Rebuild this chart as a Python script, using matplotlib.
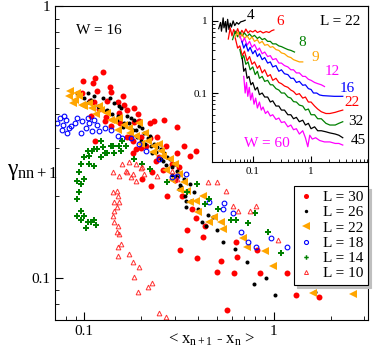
"""
Scatter of gamma_nn+1 against <x_n+1 - x_n> for W = 16, with an inset for L = 22.
"""
import matplotlib
matplotlib.use("Agg")
import matplotlib.pyplot as plt
from matplotlib.ticker import NullFormatter

plt.rcParams['font.family'] = ['Liberation Serif', 'DejaVu Serif']
plt.rcParams['mathtext.fontset'] = 'custom'
plt.rcParams['mathtext.rm'] = 'Liberation Serif'
plt.rcParams['mathtext.it'] = 'Liberation Serif:italic'

# ---- main panel data (W = 16) ----
l30_x = [0.125, 0.117, 0.111, 0.098, 0.114, 0.139, 0.137, 0.161, 0.191, 0.195, 0.107, 0.113,
         0.132, 0.15, 0.169, 0.163, 0.182, 0.221, 0.234, 0.265, 0.114, 0.109, 0.128, 0.139,
         0.169, 0.18, 0.2, 0.202, 0.307, 0.271, 0.184, 0.307, 0.229, 0.202, 0.226, 0.275,
         0.39, 0.35, 0.432, 0.426, 0.322, 0.396, 0.5, 0.614, 0.637, 0.564, 0.18, 0.188,
         0.213, 0.338, 0.36, 0.39, 0.53, 0.63, 0.813, 0.843, 1.17, 1.31, 1.73, 0.097,
         0.249, 0.289, 0.153, 0.221, 0.243, 0.318, 0.12, 0.13, 0.155, 0.175, 0.2, 0.24,
         0.26, 0.3, 0.33, 0.37]
l30_y = [0.573, 0.487, 0.521, 0.531, 0.544, 0.483, 0.504, 0.467, 0.4, 0.377, 0.447, 0.444,
         0.447, 0.444, 0.414, 0.432, 0.374, 0.371, 0.377, 0.38, 0.32, 0.394, 0.377, 0.361,
         0.329, 0.318, 0.331, 0.307, 0.358, 0.307, 0.422, 0.287, 0.246, 0.231, 0.218, 0.2,
         0.166, 0.15, 0.155, 0.142, 0.127, 0.118, 0.105, 0.104, 0.119, 0.076, 0.287, 0.299,
         0.307, 0.307, 0.282, 0.292, 0.115, 0.136, 0.127, 0.104, 0.104, 0.0865, 0.085, 0.479,
         0.279, 0.263, 0.403, 0.326, 0.331, 0.256, 0.42, 0.39, 0.37, 0.33, 0.3, 0.27,
         0.25, 0.23, 0.2, 0.18]

l26_x = [0.104, 0.105, 0.125, 0.144, 0.157, 0.177, 0.188, 0.207, 0.234, 0.255, 0.226, 0.229,
         0.255, 0.289, 0.326, 0.318, 0.368, 0.346, 0.416, 0.537, 0.622, 0.72, 0.907, 0.784,
         1.02, 0.346, 0.476, 0.437, 1.65, 0.092, 0.113, 0.12, 0.132, 0.15, 0.163, 0.169,
         0.195, 0.216, 0.243, 0.265, 0.282, 0.3, 0.31, 0.338, 0.36, 0.136, 0.153, 0.184,
         0.202, 0.221, 0.275, 0.307, 0.38, 0.1, 0.108, 0.118, 0.128, 0.14, 0.148, 0.16,
         0.172, 0.18, 0.19, 0.2, 0.21, 0.24, 0.26, 0.27, 0.29, 0.32, 0.34, 0.4, 0.45, 0.5]
l26_y = [0.479, 0.444, 0.459, 0.44, 0.422, 0.387, 0.349, 0.34, 0.312, 0.299, 0.307, 0.287,
         0.275, 0.256, 0.216, 0.212, 0.192, 0.182, 0.161, 0.135, 0.128, 0.114, 0.1, 0.095,
         0.0865, 0.192, 0.167, 0.155, 0.0887, 0.479, 0.467, 0.422, 0.414, 0.394, 0.371, 0.394,
         0.361, 0.326, 0.304, 0.287, 0.275, 0.263, 0.248, 0.231, 0.222, 0.459, 0.43, 0.38,
         0.355, 0.334, 0.279, 0.237, 0.207, 0.46, 0.45, 0.43, 0.41, 0.4, 0.38, 0.36,
         0.37, 0.35, 0.33, 0.32, 0.31, 0.29, 0.27, 0.26, 0.24, 0.22, 0.2, 0.18, 0.17, 0.15]

l22_x = [0.084, 0.083, 0.089, 0.097, 0.094, 0.11, 0.123, 0.132, 0.144, 0.163, 0.188, 0.195,
         0.216, 0.234, 0.255, 0.282, 0.3, 0.318, 0.35, 0.421, 0.39, 0.458, 0.53, 0.685,
         0.72, 0.896, 0.988, 0.487, 0.537, 1.61, 2.62, 0.106, 0.173, 0.338, 0.249, 0.153,
         0.087, 0.092, 0.1, 0.115, 0.12, 0.138, 0.15, 0.175, 0.2, 0.21, 0.23, 0.26, 0.27,
         0.29, 0.32, 0.36, 0.4]
l22_y = [0.487, 0.467, 0.451, 0.432, 0.467, 0.422, 0.414, 0.403, 0.377, 0.364, 0.334, 0.371,
         0.32, 0.307, 0.294, 0.275, 0.263, 0.241, 0.209, 0.2, 0.192, 0.161, 0.161, 0.14,
         0.13, 0.126, 0.111, 0.167, 0.151, 0.088, 0.0872, 0.44, 0.355, 0.226, 0.312, 0.387,
         0.44, 0.48, 0.43, 0.4, 0.43, 0.38, 0.35, 0.34, 0.31, 0.34, 0.29, 0.28, 0.25,
         0.23, 0.21, 0.19, 0.175]

l18_x = [0.074, 0.077, 0.08, 0.083, 0.089, 0.092, 0.097, 0.102, 0.106, 0.11, 0.117, 0.081,
         0.076, 0.096, 0.104, 0.128, 0.139, 0.15, 0.159, 0.177, 0.195, 0.213, 0.249, 0.289,
         0.31, 0.346, 0.458, 0.544, 0.537, 0.607, 0.669, 0.728, 0.803, 0.964, 1.17, 0.078,
         0.085, 0.113, 0.12, 0.072]
l18_y = [0.387, 0.364, 0.38, 0.355, 0.371, 0.387, 0.377, 0.355, 0.371, 0.346, 0.364, 0.34,
         0.349, 0.34, 0.387, 0.355, 0.349, 0.334, 0.326, 0.326, 0.312, 0.294, 0.275, 0.235,
         0.237, 0.241, 0.19, 0.188, 0.179, 0.173, 0.148, 0.136, 0.13, 0.14, 0.13, 0.394,
         0.361, 0.38, 0.346, 0.371]

l14_x = [0.104, 0.11, 0.117, 0.125, 0.139, 0.1, 0.096, 0.106, 0.113, 0.094, 0.092, 0.096,
         0.1, 0.094, 0.092, 0.096, 0.1, 0.104, 0.102, 0.109, 0.113, 0.115, 0.096, 0.092,
         0.123, 0.128, 0.144, 0.157, 0.167, 0.113, 0.132, 0.153, 0.106, 0.123, 0.141, 0.159,
         0.202, 0.275, 0.35, 0.396, 0.458, 0.506, 0.592, 0.63, 0.728, 0.793, 0.93, 1.09,
         0.432, 0.184, 0.221]
l14_y = [0.292, 0.294, 0.299, 0.304, 0.307, 0.279, 0.263, 0.263, 0.259, 0.246, 0.227, 0.222,
         0.231, 0.207, 0.195, 0.176, 0.169, 0.161, 0.153, 0.16, 0.164, 0.157, 0.164, 0.169,
         0.279, 0.287, 0.287, 0.294, 0.307, 0.299, 0.287, 0.307, 0.282, 0.318, 0.307, 0.318,
         0.263, 0.226, 0.207, 0.222, 0.195, 0.179, 0.163, 0.163, 0.159, 0.174, 0.148, 0.123,
         0.187, 0.275, 0.252]

l10_x = [0.159, 0.148, 0.141, 0.144, 0.148, 0.141, 0.144, 0.148, 0.153, 0.15, 0.157, 0.169,
         0.18, 0.2, 0.207, 0.177, 0.188, 0.15, 0.153, 0.144, 0.15, 0.15, 0.173, 0.18,
         0.184, 0.195, 0.216, 0.229, 0.191, 0.249, 0.271, 0.167, 0.153, 0.202, 0.243, 0.289,
         0.307, 0.448, 0.5, 0.557, 0.607, 0.645, 0.746, 0.803, 1.06, 0.173, 0.188, 0.141]
l10_y = [0.263, 0.209, 0.207, 0.19, 0.182, 0.169, 0.161, 0.147, 0.145, 0.13, 0.133, 0.246,
         0.241, 0.254, 0.241, 0.235, 0.227, 0.2, 0.19, 0.176, 0.155, 0.12, 0.122, 0.114,
         0.101, 0.11, 0.0926, 0.0957, 0.0887, 0.074, 0.072, 0.248, 0.237, 0.256, 0.237, 0.248,
         0.231, 0.226, 0.226, 0.209, 0.184, 0.177, 0.176, 0.184, 0.138, 0.268, 0.263, 0.246]

# ---- inset data (L = 22), one curve per W ----
w_labels = ['4', '6', '8', '9', '12', '16', '22', '32', '45', '60']
w_colors = ['black', 'red', 'green', 'orange', 'magenta', 'blue', 'red', 'green', 'black', 'magenta']

w4_x = [0.026, 0.028, 0.029, 0.031, 0.032, 0.034, 0.035, 0.037, 0.039, 0.041, 0.043, 0.046,
        0.049, 0.053, 0.057, 0.062, 0.068, 0.074]
w4_y = [0.78, 0.95, 0.72, 1.1, 0.8, 0.98, 0.7, 1.05, 0.76, 0.93, 0.82, 1.0, 0.86, 0.95, 0.9,
        0.97, 0.99, 1.02]
w6_x = [0.038, 0.041, 0.044, 0.047, 0.051, 0.055, 0.06, 0.065, 0.07, 0.076, 0.083, 0.09, 0.1,
        0.11, 0.12, 0.135, 0.15, 0.17, 0.19, 0.21, 0.23]
w6_y = [0.56, 0.8, 0.62, 0.76, 0.66, 0.78, 0.64, 0.74, 0.67, 0.77, 0.68, 0.73, 0.7, 0.74, 0.69,
        0.72, 0.68, 0.71, 0.69, 0.73, 0.75]
w8_x = [0.045, 0.05, 0.055, 0.06, 0.066, 0.072, 0.08, 0.088, 0.097, 0.107, 0.12, 0.13, 0.145,
        0.16, 0.18, 0.2, 0.22, 0.25, 0.28, 0.31, 0.35, 0.4, 0.45, 0.52]
w8_y = [0.55, 0.72, 0.6, 0.7, 0.62, 0.68, 0.61, 0.66, 0.6, 0.63, 0.57, 0.6, 0.55, 0.57, 0.52,
        0.52, 0.48, 0.48, 0.45, 0.44, 0.42, 0.4, 0.39, 0.37]
w9_x = [0.05, 0.055, 0.06, 0.066, 0.072, 0.08, 0.088, 0.097, 0.107, 0.12, 0.13, 0.145, 0.16,
        0.18, 0.2, 0.22, 0.25, 0.28, 0.31, 0.35, 0.4, 0.45, 0.5, 0.56, 0.63, 0.72]
w9_y = [0.6, 0.7, 0.58, 0.66, 0.57, 0.62, 0.55, 0.6, 0.52, 0.55, 0.49, 0.52, 0.46, 0.47, 0.43,
        0.44, 0.4, 0.39, 0.36, 0.35, 0.32, 0.31, 0.29, 0.28, 0.27, 0.27]
w12_x = [0.06, 0.066, 0.072, 0.08, 0.088, 0.097, 0.107, 0.12, 0.13, 0.145, 0.16, 0.18, 0.2,
         0.22, 0.25, 0.28, 0.31, 0.35, 0.4, 0.45, 0.5, 0.56, 0.63, 0.72, 0.8, 0.9, 1.0, 1.15,
         1.3, 1.5, 1.7]
w12_y = [0.62, 0.5, 0.58, 0.46, 0.52, 0.43, 0.47, 0.39, 0.42, 0.35, 0.37, 0.32, 0.33, 0.29,
         0.3, 0.26, 0.26, 0.24, 0.23, 0.21, 0.21, 0.19, 0.19, 0.17, 0.17, 0.155, 0.15, 0.14,
         0.135, 0.13, 0.123]
w16_x = [0.065, 0.07, 0.076, 0.083, 0.09, 0.1, 0.11, 0.12, 0.13, 0.145, 0.16, 0.18, 0.2, 0.22,
         0.25, 0.28, 0.31, 0.35, 0.4, 0.45, 0.5, 0.56, 0.63, 0.72, 0.8, 0.9, 1.0, 1.1, 1.25,
         1.4, 1.6, 2.0, 2.5, 3.0, 3.5]
w16_y = [0.52, 0.42, 0.48, 0.38, 0.43, 0.35, 0.39, 0.32, 0.35, 0.29, 0.31, 0.26, 0.27, 0.23,
         0.24, 0.2, 0.21, 0.185, 0.18, 0.16, 0.16, 0.14, 0.145, 0.128, 0.13, 0.115, 0.112, 0.1,
         0.1, 0.094, 0.092, 0.091, 0.09, 0.09, 0.09]
w22_x = [0.05, 0.055, 0.06, 0.066, 0.072, 0.08, 0.088, 0.097, 0.107, 0.12, 0.13, 0.145, 0.16,
         0.18, 0.2, 0.22, 0.25, 0.28, 0.31, 0.35, 0.4, 0.45, 0.5, 0.56, 0.63, 0.72, 0.8, 0.9,
         1.0, 1.15, 1.3, 1.5, 1.8, 2.1, 2.6, 3.0, 3.5]
w22_y = [0.58, 0.42, 0.45, 0.33, 0.38, 0.28, 0.32, 0.25, 0.27, 0.22, 0.24, 0.19, 0.21, 0.17,
         0.18, 0.15, 0.16, 0.14, 0.135, 0.125, 0.12, 0.11, 0.105, 0.095, 0.098, 0.085, 0.088,
         0.075, 0.075, 0.066, 0.06, 0.055, 0.052, 0.052, 0.054, 0.056, 0.058]
w32_x = [0.06, 0.065, 0.07, 0.076, 0.083, 0.09, 0.1, 0.11, 0.12, 0.13, 0.145, 0.16, 0.18, 0.2,
         0.22, 0.25, 0.28, 0.31, 0.35, 0.4, 0.45, 0.5, 0.56, 0.63, 0.72, 0.8, 0.9, 1.0, 1.15,
         1.3, 1.5, 1.8, 2.1, 2.6, 3.0, 3.5]
w32_y = [0.4, 0.3, 0.33, 0.25, 0.27, 0.21, 0.23, 0.18, 0.2, 0.16, 0.17, 0.145, 0.15, 0.13,
         0.13, 0.115, 0.11, 0.1, 0.1, 0.088, 0.085, 0.076, 0.075, 0.068, 0.066, 0.058, 0.06,
         0.05, 0.05, 0.044, 0.044, 0.038, 0.036, 0.036, 0.038, 0.04]
w45_x = [0.066, 0.07, 0.075, 0.08, 0.086, 0.093, 0.1, 0.11, 0.12, 0.13, 0.145, 0.16, 0.18, 0.2,
         0.22, 0.25, 0.28, 0.31, 0.35, 0.4, 0.45, 0.5, 0.56, 0.63, 0.72, 0.8, 0.9, 1.0, 1.15,
         1.3, 1.5, 1.8, 2.1, 2.6, 3.0, 3.5]
w45_y = [0.3, 0.2, 0.22, 0.16, 0.17, 0.13, 0.14, 0.11, 0.12, 0.095, 0.1, 0.088, 0.088, 0.075,
         0.078, 0.066, 0.066, 0.058, 0.058, 0.05, 0.05, 0.044, 0.046, 0.04, 0.042, 0.036, 0.038,
         0.032, 0.034, 0.03, 0.03, 0.029, 0.028, 0.027, 0.026, 0.024]
w60_x = [0.07, 0.074, 0.078, 0.082, 0.087, 0.092, 0.098, 0.105, 0.112, 0.12, 0.13, 0.14, 0.15,
         0.165, 0.18, 0.2, 0.22, 0.25, 0.28, 0.31, 0.35, 0.4, 0.45, 0.5, 0.56, 0.63, 0.72, 0.8,
         0.88, 0.95, 1.05, 1.2, 1.4, 1.7, 2.1, 2.6, 3.0, 3.5]
w60_y = [0.17, 0.1, 0.14, 0.09, 0.12, 0.08, 0.1, 0.07, 0.085, 0.062, 0.075, 0.058, 0.064, 0.052,
         0.056, 0.048, 0.05, 0.043, 0.045, 0.039, 0.04, 0.034, 0.036, 0.031, 0.032, 0.027, 0.03,
         0.024, 0.018, 0.026, 0.023, 0.024, 0.022, 0.021, 0.021, 0.02, 0.02, 0.019]

w_curves = [(w4_x, w4_y), (w6_x, w6_y), (w8_x, w8_y), (w9_x, w9_y), (w12_x, w12_y),
            (w16_x, w16_y), (w22_x, w22_y), (w32_x, w32_y), (w45_x, w45_y), (w60_x, w60_y)]


def style_log_axis(ax, size, major_len, minor_len):
    ax.set_xscale('log')
    ax.set_yscale('log')
    ax.tick_params(which='both', direction='in', top=False, right=False, labelsize=size)
    ax.tick_params(which='major', length=major_len, width=0.8)
    ax.tick_params(which='minor', length=minor_len, width=0.6)
    ax.xaxis.set_minor_formatter(NullFormatter())
    ax.yaxis.set_minor_formatter(NullFormatter())


def main():
    fig = plt.figure(figsize=(3.74, 3.62), dpi=100)
    ax = fig.add_axes([0.147, 0.116, 0.837, 0.867])
    style_log_axis(ax, 11, 6, 3)

    ax.plot(l30_x, l30_y, 'o', color='red', ms=4.3, mew=0, label='L = 30')
    ax.plot(l26_x, l26_y, 'o', color='black', ms=2.9, mew=0, label='L = 26')
    ax.plot(l22_x, l22_y, '<', color='orange', ms=6.3, mew=0, label='L = 22')
    ax.plot(l18_x, l18_y, 'o', mfc='none', mec='blue', ms=3.4, mew=0.8, label='L = 18')
    ax.plot(l14_x, l14_y, 'P', color='green', ms=3.8, mew=0, label='L = 14')
    ax.plot(l10_x, l10_y, '^', mfc='none', mec='#ff3030', ms=3.4, mew=0.7, label='L = 10')

    ax.set_xlim(0.07, 3.15)
    ax.set_ylim(0.07, 1.0)
    ax.set_xticks([0.1, 1], ['0.1', '1'])
    ax.set_yticks([0.1, 1], ['0.1', '1'])

    ax.text(0.067, 0.924, 'W = 16', transform=ax.transAxes, fontsize=11, va='center')

    leg = ax.legend(loc='upper right', bbox_to_anchor=(1.0, 0.427), borderaxespad=0,
                    fontsize=11, labelspacing=0.1, borderpad=0.3, handlelength=1.0,
                    handletextpad=0.6, fancybox=False, markerscale=0.85,
                    shadow={'color': '0.75', 'alpha': 1.0})
    leg.get_frame().set_edgecolor('black')
    leg.get_frame().set_linewidth(0.8)

    fig.text(0.02, 0.525, r'γ$_{\rm nn+1}$', fontsize=17, va='center', ha='left')
    fig.text(0.565, 0.06, r'< x$_{\rm n+1}$ - x$_{\rm n}$ >', fontsize=12, va='center', ha='center')

    # inset: gamma vs <dx> for L = 22 and several W
    ins = fig.add_axes([0.567, 0.552, 0.417, 0.431])
    style_log_axis(ins, 8, 4, 2)
    for (cx, cy), c in zip(w_curves, w_colors):
        ins.plot(cx, cy, '-', color=c, lw=0.9)
    ins.set_xlim(0.02, 9.5)
    ins.set_ylim(0.011, 1.6)
    ins.set_xticks([0.1, 1], ['0.1', '1'])
    ins.set_yticks([0.1, 1], ['0.1', '1'])

    label_pos = [(0.25, 0.94), (0.44, 0.90), (0.58, 0.77), (0.66, 0.67), (0.77, 0.58),
                 (0.87, 0.47), (0.90, 0.38), (0.92, 0.26), (0.94, 0.14)]
    label_cols = ['black', 'red', 'green', 'orange', 'magenta', 'blue', 'red', 'black', 'black']
    for lab, (px, py), c in zip(w_labels[:-1], label_pos, label_cols):
        ins.text(px, py, lab, color=c, fontsize=11, transform=ins.transAxes,
                 ha='center', va='center')
    ins.text(0.35, 0.12, 'W = ' + w_labels[-1], color='magenta', fontsize=11,
             transform=ins.transAxes, ha='center', va='center')
    ins.text(0.82, 0.90, 'L = 22', fontsize=11, transform=ins.transAxes,
             ha='center', va='center')

    fig.savefig('out.png', dpi=100)
    plt.close(fig)


if __name__ == "__main__":
    main()
